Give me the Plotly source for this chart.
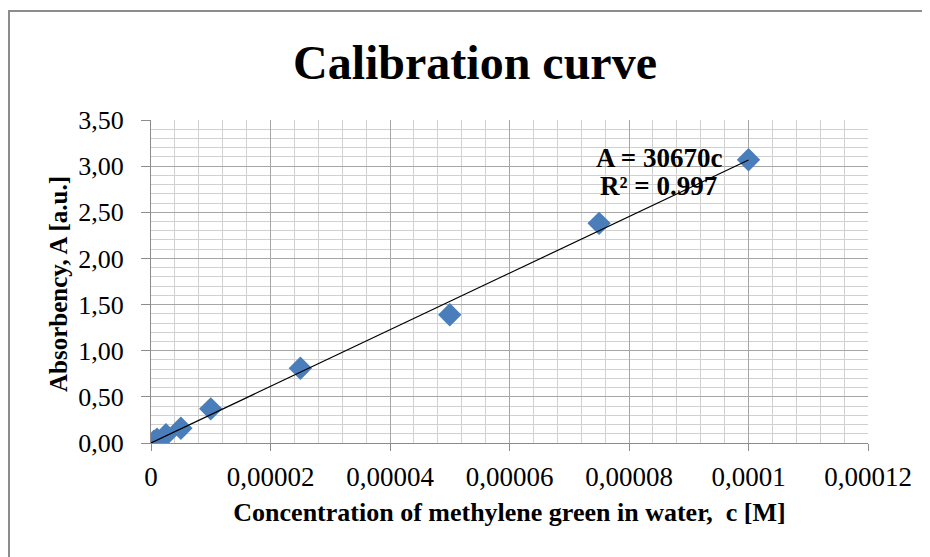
import plotly.graph_objects as go

conc = [0.0000005, 0.000001, 0.0000025, 0.000005, 0.00001, 0.000025, 0.00005, 0.000075, 0.0001]
absorb = [0.02, 0.04, 0.09, 0.16, 0.37, 0.81, 1.39, 2.38, 3.07]
slope = 30670
fit_x = [0.0, 0.0001]
x_tickvals = [0, 0.00002, 0.00004, 0.00006, 0.00008, 0.0001, 0.00012]
x_ticktext = ["0", "0,00002", "0,00004", "0,00006", "0,00008", "0,0001", "0,00012"]
y_tickvals = [0, 0.5, 1.0, 1.5, 2.0, 2.5, 3.0, 3.5]

serif = "Liberation Serif, Times New Roman, serif"

fig = go.Figure()
fig.add_trace(go.Scatter(
    x=conc, y=absorb, mode="markers",
    marker=dict(symbol="diamond", size=18, color="#4A7EBB"),
    showlegend=False,
))
fig.add_trace(go.Scatter(
    x=fit_x, y=[slope * v for v in fit_x], mode="lines",
    line=dict(color="#000000", width=1.2), showlegend=False,
))

OFF = 8  # page body margin
W, H = 922, 549
L, T = 143, 112
pw, ph = 717, 323
R, B = W - L - pw, H - T - ph


def px(xs):
    return (xs - OFF - L) / pw


def py(ys):
    return (H - B - (ys - OFF)) / ph


fig.update_layout(
    width=W, height=H,
    margin=dict(l=L, r=R, t=T, b=B, pad=0),
    paper_bgcolor="white", plot_bgcolor="white",
    separators=", ",
    font=dict(family=serif, color="#000000", size=27),
    title=dict(text="<b>Calibration curve</b>", x=(475 - OFF) / W, xanchor="center",
               y=1 - (62 - OFF) / H, yanchor="middle",
               font=dict(family=serif, size=48, color="#000000")),
    xaxis=dict(
        range=[0, 0.00012], tickvals=x_tickvals, ticktext=x_ticktext,
        showgrid=True, gridcolor="#A6A6A6", gridwidth=1.3,
        minor=dict(dtick=0.000004, showgrid=True, gridcolor="#D0D0D0", gridwidth=1.3),
        showline=True, linecolor="#8C8C8C", linewidth=1.3,
        ticks="outside", ticklen=7, tickcolor="#8C8C8C",
        zeroline=False,
        ticklabelstandoff=2,
        tickfont=dict(family=serif, size=27),
        title=dict(text="<b>Concentration of methylene green in water,  c [M]</b>",
                   font=dict(family=serif, size=26), standoff=12),
    ),
    yaxis=dict(
        range=[0, 3.5], tickvals=y_tickvals, tickformat=".2f",
        showgrid=True, gridcolor="#A6A6A6", gridwidth=1.3,
        minor=dict(dtick=0.1, showgrid=True, gridcolor="#D0D0D0", gridwidth=1.3),
        showline=True, linecolor="#8C8C8C", linewidth=1.3,
        ticks="outside", ticklen=9, tickcolor="#8C8C8C",
        zeroline=False,
        ticklabelstandoff=12,
        tickfont=dict(family=serif, size=26),
    ),
    shapes=[dict(type="rect", xref="paper", yref="paper",
                 x0=px(9), x1=px(960), y0=py(600), y1=py(11),
                 line=dict(color="#8C8C8C", width=2), layer="below")],
    annotations=[
        dict(xref="paper", yref="paper", x=px(58), y=py(284), xanchor="center", yanchor="middle",
             text="<b>Absorbency, A [a.u.]</b>", textangle=-90, showarrow=False,
             font=dict(family=serif, size=25)),
        dict(xref="paper", yref="paper", x=px(659), y=py(158), xanchor="center", yanchor="middle",
             text="<b>A = 30670c</b>", showarrow=False, font=dict(family=serif, size=27)),
        dict(xref="paper", yref="paper", x=px(658), y=py(186), xanchor="center", yanchor="middle",
             text="<b>R² = 0.997</b>", showarrow=False, font=dict(family=serif, size=27)),
    ],
)

fig.write_html("out.html")
